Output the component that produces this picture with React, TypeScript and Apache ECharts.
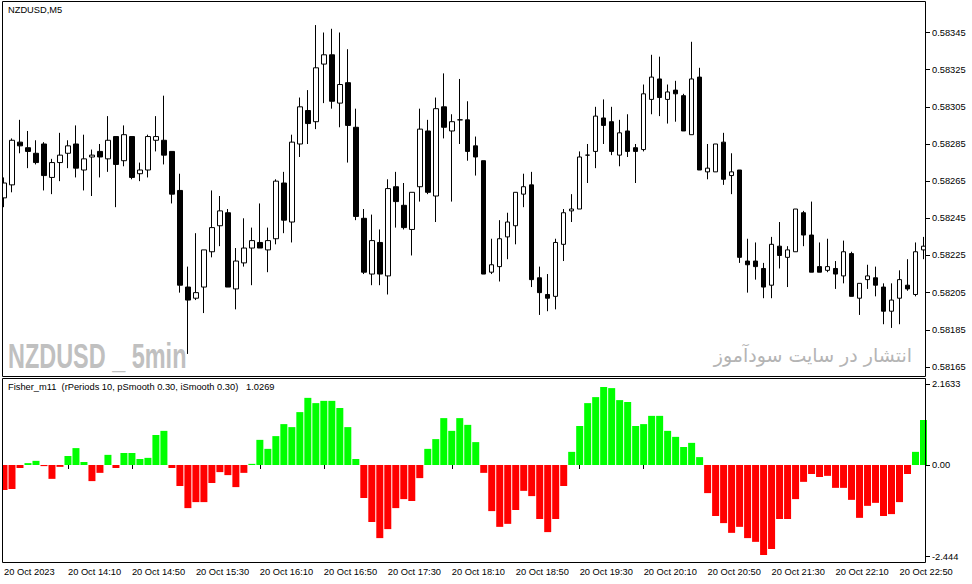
import React, { useEffect, useRef } from 'react';
import * as echarts from 'echarts';

// NZDUSD M5, 20 Oct 2023, first bar 13:30
const opens = [
  0.58256, 0.58263, 0.58286, 0.58283, 0.5828, 0.58285, 0.58267, 0.58275, 0.5828, 0.58285,
  0.58271, 0.58278, 0.58281, 0.58277, 0.58289, 0.58276, 0.58289, 0.58269, 0.58271, 0.58287,
  0.58287, 0.58281, 0.5826, 0.58208, 0.58202, 0.58208, 0.58227, 0.58241, 0.58248, 0.58207,
  0.58221, 0.58229, 0.58232, 0.58228, 0.58234, 0.58264, 0.58243, 0.58285, 0.58303, 0.58297,
  0.58328, 0.58333, 0.58307, 0.58318, 0.58294, 0.58245, 0.58215, 0.58232, 0.58214, 0.58262,
  0.58252, 0.58239, 0.58262, 0.58292, 0.58257, 0.58305, 0.58292, 0.58298, 0.58298, 0.58284,
  0.58276, 0.58216, 0.58219, 0.58235, 0.58241, 0.58258, 0.58263, 0.58213, 0.58204, 0.58203,
  0.58231, 0.58249, 0.5825, 0.58279, 0.58281, 0.58299, 0.58297, 0.58279, 0.58292, 0.58283,
  0.58282, 0.58309, 0.5832, 0.58309, 0.58314, 0.58311, 0.5829, 0.58321, 0.5827, 0.5827,
  0.58286, 0.58268, 0.58271, 0.58222, 0.58222, 0.58218, 0.58209, 0.5823, 0.58224, 0.58227,
  0.58248, 0.58236, 0.58219, 0.58217, 0.58218, 0.58214, 0.58226, 0.58202, 0.58212, 0.58213,
  0.58208, 0.58195, 0.58202, 0.58209, 0.58204, 0.58228,
];
const closes = [
  0.58264, 0.58287, 0.58284, 0.58281, 0.58275, 0.58268, 0.58275, 0.58279, 0.58284, 0.58272,
  0.58277, 0.58279, 0.58278, 0.58287, 0.58274, 0.5829, 0.58267, 0.58271, 0.58289, 0.58289,
  0.58279, 0.58258, 0.58209, 0.58201, 0.58205, 0.58228, 0.5824, 0.58249, 0.58208, 0.58222,
  0.58229, 0.58233, 0.58229, 0.58233, 0.58265, 0.58244, 0.58286, 0.58305, 0.58296, 0.58326,
  0.58333, 0.58308, 0.58317, 0.58295, 0.58246, 0.58216, 0.58233, 0.58215, 0.58261, 0.58254,
  0.5824, 0.58259, 0.58293, 0.58259, 0.58304, 0.58294, 0.58297, 0.58298, 0.58281, 0.58278,
  0.58215, 0.5822, 0.58234, 0.58243, 0.58259, 0.58262, 0.58212, 0.58205, 0.58202, 0.58232,
  0.58248, 0.5825, 0.58278, 0.58279, 0.583, 0.58295, 0.58281, 0.58291, 0.58281, 0.58281,
  0.58312, 0.58321, 0.5831, 0.58313, 0.58312, 0.58292, 0.5832, 0.58271, 0.58272, 0.58285,
  0.58266, 0.5827, 0.58224, 0.5822, 0.58219, 0.58208, 0.58231, 0.58225, 0.58228, 0.5825,
  0.58236, 0.58216, 0.58216, 0.58219, 0.58215, 0.58227, 0.58203, 0.5821, 0.58214, 0.58209,
  0.58195, 0.58201, 0.58212, 0.58207, 0.58227, 0.5823,
];
const lows = [
  0.58251, 0.58259, 0.5828, 0.58272, 0.58274, 0.5826, 0.58258, 0.58265, 0.58272, 0.58267,
  0.5826, 0.58257, 0.58267, 0.5827, 0.58251, 0.58273, 0.58266, 0.58265, 0.58267, 0.58281,
  0.58274, 0.58253, 0.58205, 0.58172, 0.58201, 0.58194, 0.58224, 0.5823, 0.58208, 0.58196,
  0.58219, 0.58209, 0.58229, 0.58216, 0.58231, 0.58237, 0.58232, 0.58278, 0.58285, 0.58293,
  0.58307, 0.58304, 0.58294, 0.58275, 0.58244, 0.58215, 0.58209, 0.58209, 0.58204, 0.5824,
  0.58239, 0.58225, 0.58254, 0.58258, 0.58243, 0.58288, 0.58254, 0.58285, 0.58276, 0.58268,
  0.58215, 0.58215, 0.58211, 0.58223, 0.58231, 0.58251, 0.58208, 0.58193, 0.58195, 0.58196,
  0.58222, 0.58243, 0.5825, 0.58264, 0.58272, 0.58285, 0.58279, 0.58273, 0.58278, 0.58264,
  0.58281, 0.58301, 0.583, 0.58296, 0.58297, 0.58292, 0.5829, 0.58271, 0.58266, 0.5827,
  0.58263, 0.58258, 0.58221, 0.58205, 0.58212, 0.58202, 0.58202, 0.58218, 0.58208, 0.58227,
  0.5823, 0.58216, 0.58216, 0.58216, 0.58207, 0.5821, 0.58203, 0.58193, 0.58207, 0.58203,
  0.58188, 0.58186, 0.58188, 0.58206, 0.58203, 0.58223,
];
const highs = [
  0.58267, 0.58288, 0.58298, 0.58292, 0.58287, 0.58286, 0.58277, 0.58291, 0.58287, 0.58295,
  0.5829, 0.58282, 0.58285, 0.583, 0.58289, 0.58295, 0.58289, 0.58275, 0.5829, 0.583,
  0.58311, 0.58281, 0.58269, 0.58219, 0.58237, 0.58228, 0.5826, 0.58257, 0.5825, 0.58229,
  0.58245, 0.5824, 0.58253, 0.5824, 0.58266, 0.5827, 0.5829, 0.5831, 0.58314, 0.58349,
  0.58345, 0.58347, 0.58345, 0.58336, 0.58304, 0.5825, 0.58247, 0.58239, 0.58266, 0.5827,
  0.58264, 0.58259, 0.58304, 0.58298, 0.5831, 0.58323, 0.58301, 0.5832, 0.58308, 0.58289,
  0.58276, 0.58234, 0.58244, 0.58248, 0.58259, 0.58269, 0.5827, 0.58219, 0.58215, 0.58234,
  0.5825, 0.58258, 0.58281, 0.58285, 0.58305, 0.58309, 0.58305, 0.58298, 0.58301, 0.58285,
  0.58317, 0.58333, 0.58332, 0.58317, 0.58319, 0.58312, 0.5834, 0.58326, 0.58285, 0.58285,
  0.58291, 0.5828, 0.58271, 0.58234, 0.58232, 0.58221, 0.58235, 0.58243, 0.5823, 0.5825,
  0.58249, 0.58254, 0.58232, 0.58234, 0.58222, 0.58233, 0.58227, 0.5821, 0.5822, 0.58219,
  0.5821, 0.5821, 0.58217, 0.58223, 0.58232, 0.58235,
];

// Fisher_m11 histogram
const fisher = [
  -0.67, -0.64, -0.08, 0.05, 0.11, -0.03, -0.37, -0.05, 0.24, 0.45,
  0.08, -0.43, -0.21, 0.27, -0.08, 0.32, 0.32, 0.16, 0.19, 0.8,
  0.91, -0.08, -0.56, -1.15, -0.99, -0.99, -0.48, -0.19, -0.27, -0.59,
  -0.21, 0.03, 0.67, 0.43, 0.77, 1.09, 1.01, 1.41, 1.79, 1.65,
  1.71, 1.71, 1.52, 1.01, 0.16, -0.88, -1.52, -1.95, -1.71, -1.15,
  -0.91, -0.96, -0.35, 0.43, 0.69, 1.25, 0.91, 1.25, 1.07, 0.61,
  -0.21, -1.23, -1.65, -1.57, -1.2, -0.69, -0.83, -1.44, -1.79, -1.44,
  -0.56, 0.35, 1.04, 1.65, 1.81, 2.08, 2.05, 1.73, 1.68, 1.04,
  1.09, 1.31, 1.31, 0.91, 0.75, 0.48, 0.59, 0.21, -0.75, -1.36,
  -1.55, -1.81, -1.65, -1.95, -2.05, -2.4, -2.24, -1.44, -1.44, -0.91,
  -0.45, -0.24, -0.32, -0.29, -0.61, -0.61, -0.93, -1.41, -1.09, -1.01,
  -1.36, -1.31, -0.99, -0.24, 0.35, 1.2,
];

const timeLabels = [
  '20 Oct 2023', '20 Oct 14:10', '20 Oct 14:50', '20 Oct 15:30', '20 Oct 16:10',
  '20 Oct 16:50', '20 Oct 17:30', '20 Oct 18:10', '20 Oct 18:50', '20 Oct 19:30',
  '20 Oct 20:10', '20 Oct 20:50', '20 Oct 21:30', '20 Oct 22:10', '20 Oct 22:50',
];
const priceTicks = [0.58165, 0.58185, 0.58205, 0.58225, 0.58245, 0.58265, 0.58285, 0.58305, 0.58325, 0.58345];
const fisherTicks = [2.1633, 0, -2.444];
const fisherTickLabels = ['2.1633', '0.00', '-2.444'];

const FONT = "'Liberation Sans', Arial, sans-serif";
const FS = 9.3;

const times: string[] = [];
for (let i = 0; i < opens.length; i++) {
  const m = 13 * 60 + 30 + i * 5;
  times.push(`${Math.floor(m / 60)}:${String(m % 60).padStart(2, '0')}`);
}

export default function App() {
  const chartRef = useRef<HTMLDivElement>(null);

  useEffect(() => {
    document.body.style.margin = '0';
    if (!chartRef.current) return;
    const chart = echarts.init(chartRef.current, undefined, { renderer: 'svg' });

    const labelStyle = { color: '#000', fontSize: FS, fontFamily: FONT };
    const everyEighth = (i: number) => i % 8 === 0;

    chart.setOption({
      animation: false,
      backgroundColor: '#fff',
      grid: [
        { left: -0.5, width: 928, top: 3, height: 372 },
        { left: -0.5, width: 928, top: 379, height: 183 },
      ],
      xAxis: [
        { type: 'category', gridIndex: 0, data: times, boundaryGap: true, show: false },
        {
          type: 'category',
          gridIndex: 1,
          data: times,
          boundaryGap: true,
          axisLine: { show: false },
          axisTick: { show: true, alignWithLabel: true, interval: everyEighth, length: 4, lineStyle: { color: '#000' } },
          axisLabel: {
            ...labelStyle,
            interval: everyEighth,
            align: 'left',
            margin: 5,
            formatter: (_v: string, i: number) => timeLabels[i / 8] ?? '',
          },
        },
      ],
      yAxis: [
        {
          type: 'value',
          gridIndex: 0,
          position: 'right',
          offset: -1.5,
          min: 0.5816067,
          max: 0.5836088,
          splitLine: { show: false },
          axisLine: { show: false },
          axisTick: { show: true, length: 4, customValues: priceTicks, lineStyle: { color: '#000' } },
          axisLabel: { ...labelStyle, margin: 6, customValues: priceTicks, formatter: (v: number) => v.toFixed(5) },
        },
        {
          type: 'value',
          gridIndex: 1,
          position: 'right',
          offset: -1.5,
          min: -2.587,
          max: 2.293,
          splitLine: { show: false },
          axisLine: { show: false },
          axisTick: { show: true, length: 4, customValues: fisherTicks, lineStyle: { color: '#000' } },
          axisLabel: {
            ...labelStyle,
            margin: 6,
            customValues: fisherTicks,
            formatter: (v: number) => {
              let best = 0;
              fisherTicks.forEach((t, k) => {
                if (Math.abs(t - v) < Math.abs(fisherTicks[best] - v)) best = k;
              });
              return fisherTickLabels[best];
            },
          },
        },
      ],
      series: [
        {
          type: 'candlestick',
          xAxisIndex: 0,
          yAxisIndex: 0,
          barWidth: 5,
          data: opens.map((o, i) => [o, closes[i], lows[i], highs[i]]),
          itemStyle: { color: '#fff', color0: '#000', borderColor: '#000', borderColor0: '#000', borderWidth: 1 },
          emphasis: { disabled: true },
        },
        {
          type: 'bar',
          xAxisIndex: 1,
          yAxisIndex: 1,
          barWidth: 7,
          data: fisher,
          itemStyle: { color: (p: any) => (p.value >= 0 ? '#00ff00' : '#ff0000') },
          emphasis: { disabled: true },
        },
      ],
      graphic: [
        { type: 'rect', z: 99, shape: { x: 0, y: 0, width: 2.5, height: 584 }, style: { fill: '#fff' } },
        { type: 'rect', z: 100, shape: { x: 2.5, y: 1.5, width: 923, height: 375 }, style: { fill: 'none', stroke: '#000', lineWidth: 1 } },
        { type: 'rect', z: 100, shape: { x: 2.5, y: 378.5, width: 923, height: 184 }, style: { fill: 'none', stroke: '#000', lineWidth: 1 } },
        { type: 'text', z: 100, x: 8, y: 10, style: { text: 'NZDUSD,M5', fill: '#000', fontSize: FS, fontFamily: FONT, textVerticalAlign: 'middle' } },
        {
          type: 'text', z: 100, x: 8, y: 387,
          style: { text: 'Fisher_m11  (rPeriods 10, pSmooth 0.30, iSmooth 0.30)   1.0269', fill: '#000', fontSize: FS, fontFamily: FONT, textVerticalAlign: 'middle' },
        },
        {
          type: 'text', z: 50, x: 8, y: 356, scaleX: 0.67,
          style: { text: 'NZDUSD _ 5min', fill: '#c0c0c0', fontSize: 35, fontWeight: 'bold', fontFamily: FONT, textVerticalAlign: 'middle' },
        },
        {
          type: 'text', z: 50, x: 912, y: 355,
          style: { text: 'انتشار در سایت سودآموز', fill: '#b4b4b4', fontSize: 19, fontFamily: "'DejaVu Sans', sans-serif", textAlign: 'right', textVerticalAlign: 'middle' },
        },
      ],
    });

    return () => chart.dispose();
  }, []);

  return <div ref={chartRef} style={{ width: 972, height: 584 }} />;
}
